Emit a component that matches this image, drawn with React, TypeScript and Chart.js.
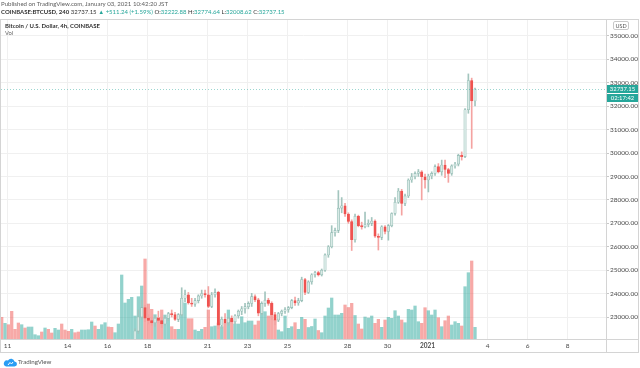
import React, { useEffect, useRef } from "react";
import { Chart, registerables } from "chart.js";

Chart.register(...registerables);

// ---------- DATA ----------
// 4h candles (JST), index 0 = Dec 10 17:00, last index 142 = Jan 3 09:00
// Volume for every candle (index 0..142)
const volume = [
  2170, 1570, 1430, 2770, 970, 1600, 1430, 1100, 1200, 1200, 430, 330, 700, 1100, 970, 600, 1070, 900, 1500, 900,
  770, 970, 630, 700, 900, 900, 930, 1700, 1300, 970, 1430, 1630, 1200, 1170, 630, 1500,
  6400, 3600, 3970, 4170, 2300, 4230, 5300, 8000, 3500, 2970, 2430, 2170, 2900, 2400, 2170, 1230, 970, 970,
  3900, 3600, 2030, 2030, 900, 770, 970, 1170, 2900, 1230, 1300, 1600, 1230, 1570, 2900, 1900, 1500, 1500,
  2230, 1630, 1800, 1800, 1400, 1800, 3570, 2730, 2300, 3570, 1900, 900, 730, 2300, 1070, 1230, 1630, 970,
  2170, 1970, 1150, 1250, 2000, 850, 630, 2300, 3100, 4100, 2400, 2400, 2570, 3400, 3150, 3570, 2350, 1500,
  1000, 2200, 2100,
  2300, 1570, 1970, 1170, 1900, 2170, 2070, 2830, 2300, 1900, 1630, 2970, 2900, 3300, 1730, 1570, 3130, 2830,
  2400, 2900, 2130, 1230, 1830, 2300, 1400, 1730, 1570, 1300, 5230, 6630, 7800, 1170,
];

// Direction of candles hidden below the visible price range (index 0..39)
const hiddenUp = [
  false, true, false, false, false, false, true, false, true, true, true, true, false, true, false, false, true, true, false, false,
  false, true, false, false, true, true, true, true, false, true, true, true, false, false, true, true, true, true, true, true,
];

// Visible candles start at index 40
const CANDLE_START = 40;

const opens = [
  21900, 22400, 23000, 23400, 22950, 22850, 22750, 22950, 22850, 22700,
  22950, 23150, 23100, 22900, 23100, 23800, 23950, 23600, 23550, 23700,
  23900, 24000, 23950, 23450, 23950, 24050, 22650, 22900, 22750, 22950,
  22800, 23050, 23250, 23350, 23440, 23580, 23870, 23730, 23160, 23580,
  23720, 23580, 23100, 22870, 23150, 23250, 23320, 23400, 23700, 23600,
  23700, 24600, 24050, 24500, 24800, 24900, 24800, 25000, 25650, 26000,
  26600, 26700, 27650, 27750, 27400, 27080, 26300, 27300, 26900, 26850,
  26950, 27000, 27100, 26450, 26400, 26850, 26650, 26900, 27420, 27900,
  28380, 27850, 28170, 28850, 28990, 29130, 29200, 28990, 28850, 29020,
  29130, 29420, 29200, 29490, 29300, 29130, 29450, 29530, 29900, 29850,
  31850, 33100, 32222.88,
];
const highs = [
  22500, 23300, 23700, 23500, 23100, 23000, 23050, 23250, 23000, 23050,
  23200, 23300, 23200, 23150, 24250, 24150, 24050, 23800, 23800, 23950,
  24150, 24150, 24300, 24050, 24200, 24100, 23000, 23150, 23000, 23050,
  23100, 23300, 23450, 23580, 23650, 24010, 23950, 23800, 23650, 24080,
  23800, 23650, 23200, 23200, 23300, 23400, 23450, 23750, 23850, 23800,
  24700, 24650, 24550, 24850, 24950, 24950, 25050, 25700, 26050, 26900,
  26800, 28400, 28100, 27850, 27450, 27150, 27400, 27350, 27050, 27480,
  27150, 27250, 27150, 26550, 26900, 26900, 26950, 27450, 28100, 28490,
  28450, 28250, 28900, 29130, 29200, 29300, 29250, 29100, 29100, 29200,
  29500, 29550, 29700, 29700, 29350, 29500, 29600, 29950, 30050, 31900,
  33380, 33200, 32774.64,
];
const lows = [
  21800, 22300, 22900, 22800, 22700, 22650, 22600, 22750, 22550, 22650,
  22850, 23000, 22850, 22800, 23050, 23650, 23550, 23450, 23450, 23600,
  23800, 23850, 23400, 23400, 23850, 22500, 22500, 22700, 22650, 22750,
  22700, 22950, 23100, 23160, 23350, 23450, 23650, 23050, 23100, 23450,
  23500, 22900, 22660, 22800, 23050, 23150, 23200, 23350, 23500, 23500,
  23650, 23950, 24000, 24400, 24700, 24750, 24750, 24950, 25550, 25950,
  26450, 26600, 27450, 27300, 27000, 25840, 26200, 26850, 26750, 26800,
  26850, 26900, 26400, 25860, 26300, 26550, 26280, 26850, 27350, 27850,
  27350, 27750, 28100, 28750, 28900, 29000, 28000, 28500, 28340, 28900,
  29050, 29150, 29050, 28950, 28750, 29050, 29350, 29450, 29700, 29800,
  31700, 30200, 32008.62,
];
const closes = [
  22400, 23000, 23400, 22950, 22850, 22750, 22950, 22850, 22700, 22950,
  23150, 23100, 22900, 23100, 23800, 23950, 23600, 23550, 23700, 23900,
  24000, 23950, 23450, 23950, 24050, 22650, 22900, 22750, 22950, 22800,
  23050, 23250, 23350, 23440, 23580, 23870, 23730, 23160, 23580, 23720,
  23580, 23100, 22870, 23150, 23250, 23320, 23400, 23700, 23600, 23700,
  24600, 24050, 24500, 24800, 24900, 24800, 25000, 25650, 26000, 26600,
  26700, 27650, 27750, 27400, 27080, 26300, 27300, 26900, 26850, 26950,
  27000, 27100, 26450, 26400, 26850, 26650, 26900, 27420, 27900, 28380,
  27850, 28170, 28850, 28990, 29130, 29200, 28990, 28850, 29020, 29130,
  29420, 29200, 29490, 29300, 29130, 29450, 29530, 29900, 29850, 31850,
  33100, 32222.88, 32737.15,
];

// Time axis: day labels and their offsets (days after Dec 11, 00:00 JST)
const dayLabels = ["11", "14", "16", "18", "21", "23", "25", "28", "30", "2021", "4", "6", "8"];
const dayOffsets = [0, 3, 5, 7, 10, 12, 14, 17, 19, 21, 24, 26, 28];

// Price axis ticks
const priceTicks = [23000, 24000, 25000, 26000, 27000, 28000, 29000, 30000, 31000, 32000, 33000, 34000, 35000];

// Header values
const lastPrice = 32737.15;
const change = "+511.24";
const changePct = "+1.59%";
const countdown = "02:17:42";

// ---------- STYLE ----------
const UP = "#26a69a";
const FONT = "Lato, 'Open Sans', sans-serif";

export default function App() {
  const canvasRef = useRef<HTMLCanvasElement>(null);

  useEffect(() => {
    const canvas = canvasRef.current!;
    Chart.defaults.font.family = FONT;

    const isUp = (i: number) => {
      const k = i - CANDLE_START;
      if (k >= 0) return closes[k] >= opens[k];
      return hiddenUp[i];
    };
    const volData = volume.map((v, i) => ({ x: i, y: v }));
    const volColors = volume.map((_, i) => (isUp(i) ? "rgba(38,166,154,0.5)" : "rgba(239,83,80,0.5)"));
    const candleUp = opens.map((o, k) => closes[k] >= o);
    const wickData = opens.map((_, k) => ({ x: k + CANDLE_START, y: [lows[k], highs[k]] }));
    const bodyData = opens.map((o, k) => ({ x: k + CANDLE_START, y: [o, closes[k]] }));

    // one candle = 1 unit; 6 candles per day
    const xMin = -0.21;
    const xMax = xMin + 605 / (20 / 6);

    const overlay = {
      id: "overlay",
      afterDraw(chart: any) {
        const { ctx, chartArea, scales } = chart;
        ctx.save();
        const y = Math.round(scales.y.getPixelForValue(lastPrice)) + 0.5;
        // dotted last price line
        ctx.strokeStyle = "rgba(38,166,154,0.45)";
        ctx.lineWidth = 1;
        ctx.setLineDash([1, 2]);
        ctx.beginPath();
        ctx.moveTo(chartArea.left, y);
        ctx.lineTo(chartArea.right, y);
        ctx.stroke();
        ctx.setLineDash([]);
        // frame
        ctx.strokeStyle = "#d4d4d4";
        ctx.strokeRect(0.5, 19.5, 638, 333);
        ctx.beginPath();
        ctx.moveTo(0, 339.5);
        ctx.lineTo(639, 339.5);
        ctx.moveTo(606.5, 19.5);
        ctx.lineTo(606.5, 353);
        ctx.stroke();
        // price label + countdown
        ctx.fillStyle = UP;
        ctx.fillRect(607, y - 4.5, 31, 8);
        ctx.fillRect(607, y + 4.5, 31, 8);
        ctx.fillStyle = "#ffffff";
        ctx.font = `5.9px ${FONT}`;
        ctx.textBaseline = "middle";
        ctx.textAlign = "center";
        ctx.fillText(lastPrice.toFixed(2), 622.5, y - 0.5);
        ctx.fillText(countdown, 622.5, y + 8.5);
        // USD box
        ctx.strokeStyle = "#c8c8c8";
        ctx.beginPath();
        ctx.roundRect(613.5, 21.5, 15, 8, 1.5);
        ctx.stroke();
        ctx.fillStyle = "#555";
        ctx.font = `5.5px ${FONT}`;
        ctx.fillText("USD", 621, 25.8);
        ctx.restore();
      },
    };

    const chart = new Chart(canvas, {
      type: "bar",
      data: {
        datasets: [
          {
            label: "body",
            data: bodyData as any,
            xAxisID: "x",
            yAxisID: "y",
            order: 1,
            grouped: false,
            barThickness: 2.4,
            minBarLength: 1,
            borderSkipped: false,
            borderWidth: 0.6,
            backgroundColor: candleUp.map((u) => (u ? "#d8eae6" : "#ef5350")),
            borderColor: candleUp.map((u) => (u ? "#8db7af" : "#ef5350")),
          } as any,
          {
            label: "wick",
            data: wickData as any,
            xAxisID: "x",
            yAxisID: "y",
            order: 2,
            grouped: false,
            barThickness: 1,
            borderSkipped: false,
            backgroundColor: candleUp.map((u) => (u ? "#a3c5be" : "#f4a3a1")),
          } as any,
          {
            label: "Vol",
            data: volData as any,
            xAxisID: "x",
            yAxisID: "vol",
            order: 3,
            grouped: false,
            barThickness: 2.6,
            backgroundColor: volColors,
          } as any,
        ],
      },
      options: {
        animation: false,
        responsive: false,
        maintainAspectRatio: false,
        layout: { padding: { left: 1, right: 1, top: 20, bottom: 15 } },
        plugins: { legend: { display: false }, tooltip: { enabled: false } },
        scales: {
          x: {
            type: "linear",
            min: xMin,
            max: xMax,
            offset: false,
            grid: { color: "#f0f0f0", drawTicks: false, offset: false },
            border: { display: false },
            afterBuildTicks: (s: any) => {
              s.ticks = dayOffsets.map((d) => ({ value: 1.75 + 6 * d }));
            },
            afterFit: (s: any) => {
              s.height = 14;
            },
            ticks: {
              autoSkip: false,
              maxRotation: 0,
              padding: 3,
              color: "#4a4a4a",
              font: (c: any) => ({ family: FONT, size: 6.5, weight: dayLabels[c.index] === "2021" ? "bold" : "normal" }),
              callback: (_v: any, i: number) => dayLabels[i],
            },
          } as any,
          y: {
            type: "linear",
            position: "right",
            min: 22061,
            max: 35682,
            grid: { color: "#f0f0f0", tickColor: "#c8c8c8", tickLength: 3, drawTicks: true },
            border: { display: false },
            afterBuildTicks: (s: any) => {
              s.ticks = priceTicks.map((v) => ({ value: v }));
            },
            afterFit: (s: any) => {
              s.width = 33;
            },
            ticks: {
              padding: 1,
              color: "#4a4a4a",
              font: { family: FONT, size: 6.5 },
              callback: (v: any) => Number(v).toFixed(2),
            },
          } as any,
          vol: { type: "linear", display: false, min: 0, max: 31900 } as any,
        },
      },
      plugins: [overlay],
    });
    return () => chart.destroy();
  }, []);

  const teal = { color: UP };
  return (
    <div style={{ position: "fixed", left: 0, top: 0, width: 640, height: 368, background: "#fff", fontFamily: FONT, overflow: "hidden" }}>
      <canvas ref={canvasRef} width={640} height={368} style={{ position: "absolute", left: 0, top: 0, width: 640, height: 368 }} />
      <div style={{ position: "absolute", left: 1, top: 0, fontSize: 6.1, lineHeight: "8px", color: "#606060", whiteSpace: "nowrap" }}>
        Published on TradingView.com, January 03, 2021 10:42:20 JST
      </div>
      <div style={{ position: "absolute", left: 1, top: 8, fontSize: 6, lineHeight: "8px", color: "#333", whiteSpace: "nowrap" }}>
        <b>COINBASE:BTCUSD, 240</b> {lastPrice.toFixed(2)} <span style={teal}>▲ {change} ({changePct})</span> O:<span style={teal}>32222.88</span> H:<span style={teal}>32774.64</span> L:<span style={teal}>32008.62</span> C:<span style={teal}>{lastPrice.toFixed(2)}</span>
      </div>
      <div style={{ position: "absolute", left: 5, top: 22, fontSize: 6, lineHeight: "8px", color: "#333", fontWeight: "bold", whiteSpace: "nowrap" }}>
        Bitcoin / U.S. Dollar, 4h, COINBASE
      </div>
      <div style={{ position: "absolute", left: 5, top: 29, fontSize: 5.8, lineHeight: "8px", color: "#666", whiteSpace: "nowrap" }}>Vol</div>
      <svg width="14" height="10" viewBox="0 0 14 10" style={{ position: "absolute", left: 3, top: 357 }}>
        <path d="M3 9.5 H11.5 A2.5 2.5 0 0 0 11.5 4.5 A3.5 3.5 0 0 0 5 3.5 A3 3 0 0 0 3 9.5 Z" fill="#2a9df4" />
        <path d="M5 8 L7 5.5 L8.5 7 L10 5" stroke="#fff" strokeWidth="1" fill="none" />
      </svg>
      <div style={{ position: "absolute", left: 18, top: 358, fontSize: 6.2, lineHeight: "8px", color: "#555", whiteSpace: "nowrap" }}>TradingView</div>
    </div>
  );
}
